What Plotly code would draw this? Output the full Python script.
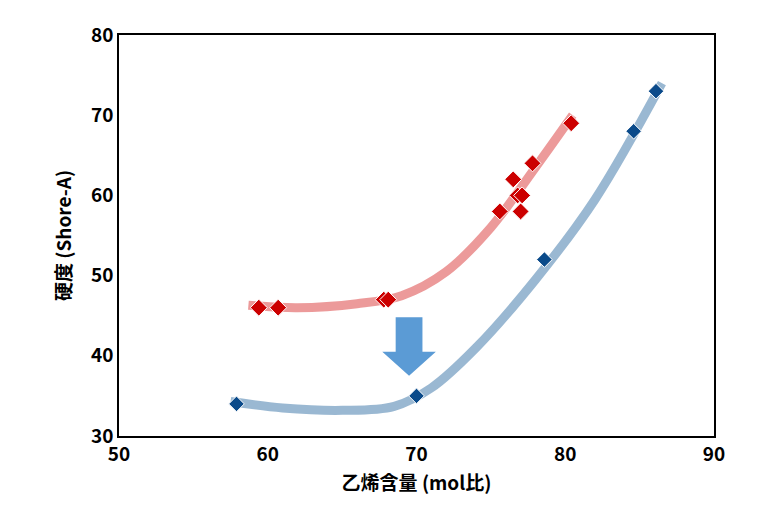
import plotly.graph_objects as go

# measured points
red_x = [59.4, 60.7, 67.8, 68.1, 75.6, 76.5, 76.8, 77.1, 77.0, 77.8, 80.4]
red_y = [46, 46, 47, 47, 58, 62, 60, 60, 58, 64, 69]
blue_x = [57.9, 70.0, 78.6, 84.6, 86.1]
blue_y = [34, 35, 52, 68, 73]

# hand-drawn trend curves
red_curve_x = [58.7, 62, 66, 69, 72, 75, 78, 80.5]
red_curve_y = [46.3, 46.0, 46.5, 47.5, 50.5, 56, 63.5, 70]
blue_curve_x = [57.5, 61, 65, 68.5, 71, 74, 78, 82, 86.5]
blue_curve_y = [34.3, 33.5, 33.2, 33.7, 36, 41, 49.5, 59.5, 74]

font = "Noto Sans CJK JP"

fig = go.Figure()
fig.add_trace(go.Scatter(x=red_curve_x, y=red_curve_y, mode="lines",
                         line=dict(color="rgba(230,120,120,0.75)", width=9, shape="spline")))
fig.add_trace(go.Scatter(x=blue_curve_x, y=blue_curve_y, mode="lines",
                         line=dict(color="rgba(120,160,195,0.75)", width=9, shape="spline")))
fig.add_trace(go.Scatter(x=red_x, y=red_y, mode="markers",
                         marker=dict(symbol="diamond", size=13, color="#cc0000",
                                     line=dict(color="white", width=1))))
fig.add_trace(go.Scatter(x=blue_x, y=blue_y, mode="markers",
                         marker=dict(symbol="diamond", size=12, color="#0a4a8a",
                                     line=dict(color="white", width=1))))

# down arrow
fig.add_shape(type="path",
              path="M 68.6 44.8 L 70.4 44.8 L 70.4 40.5 L 71.3 40.5 L 69.5 37.5 L 67.7 40.5 L 68.6 40.5 Z",
              fillcolor="#5b9bd5", line=dict(width=0))

axis = dict(showgrid=False, zeroline=False, showline=True, linecolor="black", linewidth=1.5,
            mirror=True, ticks="",
            tickfont=dict(family=font, size=19, color="black", weight="bold"))
fig.update_layout(
    width=768, height=529, margin=dict(l=111, r=62, t=23, b=101),
    plot_bgcolor="white", paper_bgcolor="white", showlegend=False,
    font=dict(family=font, color="black"),
)
fig.update_xaxes(axis, range=[50, 90], dtick=10,
                 title=dict(text="乙烯含量 (mol比)", standoff=12,
                            font=dict(family=font, size=19, weight="bold")))
fig.update_yaxes(axis, range=[30, 80], dtick=10,
                 title=dict(text="硬度 (Shore-A)", standoff=14,
                            font=dict(family=font, size=19, weight="bold")))

fig.write_html("out.html")
